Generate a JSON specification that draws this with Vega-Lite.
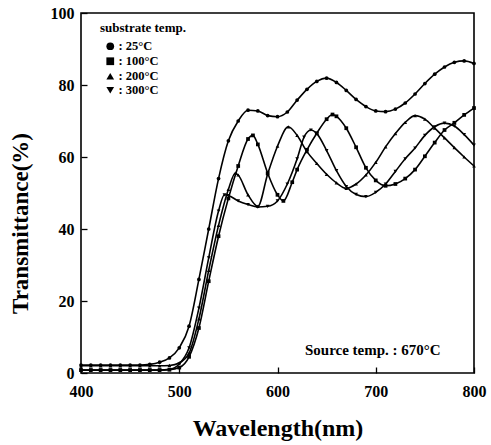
{
  "$schema": "https://vega.github.io/schema/vega-lite/v6.json",
  "width": 393,
  "height": 360,
  "autosize": "none",
  "padding": {"left": 81, "top": 13, "right": 17, "bottom": 72},
  "background": "white",
  "config": {
    "font": "Liberation Serif",
    "view": {"stroke": "black", "strokeWidth": 1.6}
  },
  "datasets": {
    "spectra": [
      {"s": "25°C", "wl": 400, "t": 2.2}, {"s": "25°C", "wl": 410, "t": 2.2}, {"s": "25°C", "wl": 420, "t": 2.2}, {"s": "25°C", "wl": 430, "t": 2.2}, {"s": "25°C", "wl": 440, "t": 2.2}, {"s": "25°C", "wl": 450, "t": 2.2}, {"s": "25°C", "wl": 460, "t": 2.2}, {"s": "25°C", "wl": 470, "t": 2.4}, {"s": "25°C", "wl": 480, "t": 3.0}, {"s": "25°C", "wl": 490, "t": 4.2}, {"s": "25°C", "wl": 500, "t": 7}, {"s": "25°C", "wl": 510, "t": 13}, {"s": "25°C", "wl": 520, "t": 26}, {"s": "25°C", "wl": 530, "t": 40}, {"s": "25°C", "wl": 540, "t": 54}, {"s": "25°C", "wl": 550, "t": 64.5}, {"s": "25°C", "wl": 560, "t": 70}, {"s": "25°C", "wl": 570, "t": 73}, {"s": "25°C", "wl": 580, "t": 72.8}, {"s": "25°C", "wl": 590, "t": 71.5}, {"s": "25°C", "wl": 600, "t": 71.2}, {"s": "25°C", "wl": 610, "t": 72.5}, {"s": "25°C", "wl": 620, "t": 75.8}, {"s": "25°C", "wl": 630, "t": 78.8}, {"s": "25°C", "wl": 640, "t": 81}, {"s": "25°C", "wl": 650, "t": 81.9}, {"s": "25°C", "wl": 660, "t": 80.7}, {"s": "25°C", "wl": 670, "t": 78.5}, {"s": "25°C", "wl": 680, "t": 76}, {"s": "25°C", "wl": 690, "t": 74}, {"s": "25°C", "wl": 700, "t": 72.8}, {"s": "25°C", "wl": 710, "t": 72.6}, {"s": "25°C", "wl": 720, "t": 73.3}, {"s": "25°C", "wl": 730, "t": 75}, {"s": "25°C", "wl": 740, "t": 77.5}, {"s": "25°C", "wl": 750, "t": 80.4}, {"s": "25°C", "wl": 760, "t": 83}, {"s": "25°C", "wl": 770, "t": 85}, {"s": "25°C", "wl": 780, "t": 86.3}, {"s": "25°C", "wl": 790, "t": 86.7}, {"s": "25°C", "wl": 800, "t": 86},

      {"s": "100°C", "wl": 400, "t": 0.8}, {"s": "100°C", "wl": 410, "t": 0.8}, {"s": "100°C", "wl": 420, "t": 0.8}, {"s": "100°C", "wl": 430, "t": 0.8}, {"s": "100°C", "wl": 440, "t": 0.8}, {"s": "100°C", "wl": 450, "t": 0.8}, {"s": "100°C", "wl": 460, "t": 0.8}, {"s": "100°C", "wl": 470, "t": 0.8}, {"s": "100°C", "wl": 480, "t": 0.8}, {"s": "100°C", "wl": 490, "t": 0.9}, {"s": "100°C", "wl": 500, "t": 1.5}, {"s": "100°C", "wl": 510, "t": 4.5}, {"s": "100°C", "wl": 520, "t": 12.5}, {"s": "100°C", "wl": 530, "t": 25.5}, {"s": "100°C", "wl": 540, "t": 38}, {"s": "100°C", "wl": 550, "t": 48.5}, {"s": "100°C", "wl": 560, "t": 57.5}, {"s": "100°C", "wl": 570, "t": 65}, {"s": "100°C", "wl": 575, "t": 66}, {"s": "100°C", "wl": 580, "t": 63.5}, {"s": "100°C", "wl": 590, "t": 55.5}, {"s": "100°C", "wl": 600, "t": 49.5}, {"s": "100°C", "wl": 606, "t": 47.8}, {"s": "100°C", "wl": 615, "t": 53}, {"s": "100°C", "wl": 620, "t": 56.5}, {"s": "100°C", "wl": 630, "t": 62}, {"s": "100°C", "wl": 640, "t": 66.6}, {"s": "100°C", "wl": 650, "t": 70.5}, {"s": "100°C", "wl": 656, "t": 71.8}, {"s": "100°C", "wl": 660, "t": 71.3}, {"s": "100°C", "wl": 670, "t": 68}, {"s": "100°C", "wl": 680, "t": 62.7}, {"s": "100°C", "wl": 690, "t": 57}, {"s": "100°C", "wl": 700, "t": 53.5}, {"s": "100°C", "wl": 710, "t": 52}, {"s": "100°C", "wl": 720, "t": 52.5}, {"s": "100°C", "wl": 730, "t": 54}, {"s": "100°C", "wl": 740, "t": 56.5}, {"s": "100°C", "wl": 750, "t": 60.2}, {"s": "100°C", "wl": 760, "t": 64}, {"s": "100°C", "wl": 770, "t": 67.5}, {"s": "100°C", "wl": 780, "t": 69.5}, {"s": "100°C", "wl": 790, "t": 71.7}, {"s": "100°C", "wl": 800, "t": 73.6},

      {"s": "200°C", "wl": 400, "t": 2.0}, {"s": "200°C", "wl": 410, "t": 2.0}, {"s": "200°C", "wl": 420, "t": 2.0}, {"s": "200°C", "wl": 430, "t": 2.0}, {"s": "200°C", "wl": 440, "t": 2.0}, {"s": "200°C", "wl": 450, "t": 2.0}, {"s": "200°C", "wl": 460, "t": 2.0}, {"s": "200°C", "wl": 470, "t": 2.0}, {"s": "200°C", "wl": 480, "t": 2.0}, {"s": "200°C", "wl": 490, "t": 2.1}, {"s": "200°C", "wl": 500, "t": 2.8}, {"s": "200°C", "wl": 510, "t": 5.5}, {"s": "200°C", "wl": 520, "t": 15}, {"s": "200°C", "wl": 530, "t": 28.5}, {"s": "200°C", "wl": 540, "t": 41}, {"s": "200°C", "wl": 550, "t": 51}, {"s": "200°C", "wl": 557, "t": 55.5}, {"s": "200°C", "wl": 560, "t": 55}, {"s": "200°C", "wl": 570, "t": 49.5}, {"s": "200°C", "wl": 580, "t": 46.3}, {"s": "200°C", "wl": 590, "t": 55.3}, {"s": "200°C", "wl": 600, "t": 63}, {"s": "200°C", "wl": 611, "t": 68.4}, {"s": "200°C", "wl": 620, "t": 66}, {"s": "200°C", "wl": 630, "t": 61.5}, {"s": "200°C", "wl": 640, "t": 58.2}, {"s": "200°C", "wl": 650, "t": 55.2}, {"s": "200°C", "wl": 660, "t": 52.8}, {"s": "200°C", "wl": 670, "t": 51.3}, {"s": "200°C", "wl": 680, "t": 52.5}, {"s": "200°C", "wl": 690, "t": 55}, {"s": "200°C", "wl": 700, "t": 58.5}, {"s": "200°C", "wl": 710, "t": 62.8}, {"s": "200°C", "wl": 720, "t": 66.5}, {"s": "200°C", "wl": 730, "t": 69.6}, {"s": "200°C", "wl": 740, "t": 71.5}, {"s": "200°C", "wl": 750, "t": 70.5}, {"s": "200°C", "wl": 760, "t": 68}, {"s": "200°C", "wl": 770, "t": 65.3}, {"s": "200°C", "wl": 780, "t": 62.6}, {"s": "200°C", "wl": 790, "t": 60}, {"s": "200°C", "wl": 800, "t": 57.5},

      {"s": "300°C", "wl": 400, "t": 0.8}, {"s": "300°C", "wl": 410, "t": 0.8}, {"s": "300°C", "wl": 420, "t": 0.8}, {"s": "300°C", "wl": 430, "t": 0.8}, {"s": "300°C", "wl": 440, "t": 0.8}, {"s": "300°C", "wl": 450, "t": 0.8}, {"s": "300°C", "wl": 460, "t": 0.8}, {"s": "300°C", "wl": 470, "t": 0.8}, {"s": "300°C", "wl": 480, "t": 0.8}, {"s": "300°C", "wl": 490, "t": 1.0}, {"s": "300°C", "wl": 500, "t": 2.5}, {"s": "300°C", "wl": 510, "t": 7}, {"s": "300°C", "wl": 520, "t": 18}, {"s": "300°C", "wl": 530, "t": 32}, {"s": "300°C", "wl": 540, "t": 45}, {"s": "300°C", "wl": 546, "t": 49.5}, {"s": "300°C", "wl": 550, "t": 49.3}, {"s": "300°C", "wl": 560, "t": 47.8}, {"s": "300°C", "wl": 570, "t": 46.8}, {"s": "300°C", "wl": 580, "t": 46.1}, {"s": "300°C", "wl": 590, "t": 46.3}, {"s": "300°C", "wl": 600, "t": 47.8}, {"s": "300°C", "wl": 610, "t": 52.5}, {"s": "300°C", "wl": 620, "t": 59.5}, {"s": "300°C", "wl": 627, "t": 65.5}, {"s": "300°C", "wl": 634, "t": 67.5}, {"s": "300°C", "wl": 640, "t": 66.5}, {"s": "300°C", "wl": 650, "t": 61.8}, {"s": "300°C", "wl": 660, "t": 56.2}, {"s": "300°C", "wl": 670, "t": 51.8}, {"s": "300°C", "wl": 680, "t": 49.6}, {"s": "300°C", "wl": 690, "t": 49}, {"s": "300°C", "wl": 700, "t": 50.2}, {"s": "300°C", "wl": 710, "t": 52.5}, {"s": "300°C", "wl": 720, "t": 56}, {"s": "300°C", "wl": 730, "t": 59.5}, {"s": "300°C", "wl": 740, "t": 62.5}, {"s": "300°C", "wl": 750, "t": 66}, {"s": "300°C", "wl": 760, "t": 68.4}, {"s": "300°C", "wl": 770, "t": 69.4}, {"s": "300°C", "wl": 780, "t": 68.6}, {"s": "300°C", "wl": 790, "t": 66.2}, {"s": "300°C", "wl": 800, "t": 63.3}
    ],
    "note": [{"wl": 697, "t": 6.3, "label": "Source temp. : 670°C"}]
  },
  "layer": [
    {
      "data": {"name": "spectra"},
      "mark": {"type": "line", "interpolate": "monotone", "color": "black", "strokeWidth": 1.6},
      "encoding": {
        "x": {"field": "wl", "type": "quantitative", "scale": {"domain": [400, 800], "nice": false},
          "axis": {"values": [400, 500, 600, 700, 800], "title": "Wavelength(nm)", "grid": false, "domain": false,
            "tickSize": -6, "tickColor": "black", "tickWidth": 1.3, "labelFlush": false,
            "labelFont": "Liberation Serif", "labelFontWeight": "bold", "labelFontSize": 16, "labelColor": "black", "labelPadding": 16,
            "titleFont": "Liberation Serif", "titleFontWeight": "bold", "titleFontSize": 24, "titleColor": "black", "titlePadding": 17}},
        "y": {"field": "t", "type": "quantitative", "scale": {"domain": [0, 100], "nice": false},
          "axis": {"values": [0, 20, 40, 60, 80, 100], "title": "Transmittance(%)", "grid": false, "domain": false,
            "tickSize": -6, "tickColor": "black", "tickWidth": 1.3, "labelFlush": false,
            "labelFont": "Liberation Serif", "labelFontWeight": "bold", "labelFontSize": 16, "labelColor": "black", "labelPadding": 13,
            "titleFont": "Liberation Serif", "titleFontWeight": "bold", "titleFontSize": 23, "titleColor": "black", "titlePadding": 18, "titleY": 210}},
        "detail": {"field": "s", "type": "nominal"}
      }
    },
    {
      "data": {"name": "spectra"},
      "mark": {"type": "point", "filled": true, "color": "black", "size": 14, "opacity": 1},
      "encoding": {
        "x": {"field": "wl", "type": "quantitative"},
        "y": {"field": "t", "type": "quantitative"},
        "shape": {"field": "s", "type": "nominal",
          "scale": {"domain": ["25°C", "100°C", "200°C", "300°C"], "range": ["circle", "square", "triangle-up", "triangle-down"]},
          "legend": {"orient": "none", "legendX": 19, "legendY": 9, "title": "substrate temp.",
            "titleFont": "Liberation Serif", "titleFontWeight": "bold", "titleFontSize": 13, "titleColor": "black", "titlePadding": 5,
            "labelFont": "Liberation Serif", "labelFontWeight": "bold", "labelFontSize": 12.5, "labelColor": "black",
            "labelExpr": "': ' + datum.label", "symbolSize": 60, "symbolFillColor": "black", "symbolStrokeColor": "black",
            "symbolOffset": 4, "rowPadding": 0, "labelOffset": 2}}
      }
    },
    {
      "data": {"name": "note"},
      "mark": {"type": "text", "font": "Liberation Serif", "fontWeight": "bold", "fontSize": 15, "color": "black", "align": "center", "baseline": "middle"},
      "encoding": {
        "x": {"field": "wl", "type": "quantitative"},
        "y": {"field": "t", "type": "quantitative"},
        "text": {"field": "label", "type": "nominal"}
      }
    }
  ]
}
